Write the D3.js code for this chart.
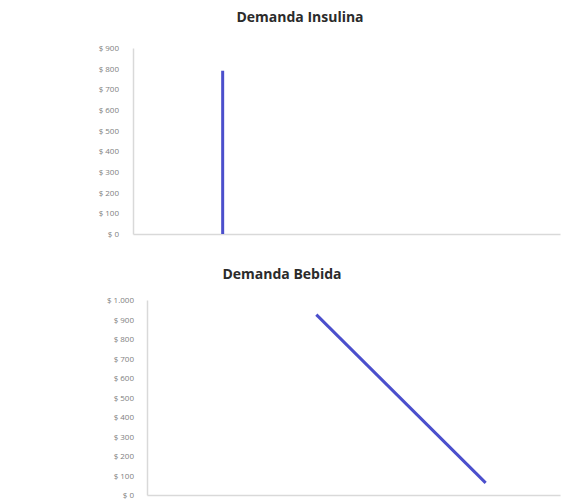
<!DOCTYPE html>
<html>
<head>
<meta charset="utf-8">
<script src="https://cdn.jsdelivr.net/npm/d3@7"></script>
<style>
  body { margin: 0; background: #fff; }
  .title { font-family: "Open Sans", sans-serif; font-weight: bold; fill: #2b2b2b; }
  .tick text { font-family: "Open Sans", sans-serif; fill: #808080; }
</style>
</head>
<body>
<div id="wrapper"></div>
<script>
// Demanda Insulina: perfectly inelastic, one quantity
const insulinaQ = [21, 21];
const insulinaP = [0, 790];
const insulinaTicks = [0, 100, 200, 300, 400, 500, 600, 700, 800, 900];

// Demanda Bebida: linear demand
const bebidaQ = [41, 82];
const bebidaP = [925, 62];
const bebidaTicks = [0, 100, 200, 300, 400, 500, 600, 700, 800, 900, 1000];

const locale = d3.formatLocale({ decimal: ",", thousands: ".", grouping: [3], currency: ["$ ", ""] });
const money = locale.format("$,.0f");

const svg = d3.select("#wrapper")
    .append("svg")
    .attr("width", 568)
    .attr("height", 503);

function drawChart(cfg) {
    const x = d3.scaleLinear().domain([0, 100]).range([cfg.left, cfg.right]);
    const y = d3.scaleLinear().domain([0, cfg.max]).range([cfg.bottom, cfg.top]);

    svg.append("text")
        .attr("class", "title")
        .attr("x", cfg.titleX)
        .attr("y", cfg.titleY)
        .attr("text-anchor", "middle")
        .style("font-size", "14px")
        .text(cfg.title);

    const yAxis = svg.append("g")
        .attr("transform", `translate(${cfg.left},0)`)
        .call(d3.axisLeft(y).tickValues(cfg.ticks).tickSize(0).tickPadding(cfg.pad).tickFormat(money));
    yAxis.select(".domain").attr("stroke", "#d9d9d9").attr("stroke-width", 1.5);
    yAxis.selectAll(".tick text").style("font-size", "8px");

    const xAxis = svg.append("g")
        .attr("transform", `translate(0,${cfg.bottom})`)
        .call(d3.axisBottom(x).tickValues([]).tickSizeOuter(0));
    xAxis.select(".domain").attr("stroke", "#d9d9d9").attr("stroke-width", 1.5);

    const pts = cfg.q.map((q, i) => [q, cfg.p[i]]);
    svg.append("path")
        .datum(pts)
        .attr("fill", "none")
        .attr("stroke", "#4b4fcc")
        .attr("stroke-width", 3)
        .attr("d", d3.line().x(d => x(d[0])).y(d => y(d[1])));
}

drawChart({
    title: "Demanda Insulina", titleX: 300, titleY: 22,
    left: 133, right: 560, top: 48, bottom: 234, max: 900,
    ticks: insulinaTicks, q: insulinaQ, p: insulinaP, pad: 14
});

drawChart({
    title: "Demanda Bebida", titleX: 282, titleY: 279,
    left: 147, right: 560, top: 300, bottom: 495, max: 1000,
    ticks: bebidaTicks, q: bebidaQ, p: bebidaP, pad: 13
});
</script>
</body>
</html>
